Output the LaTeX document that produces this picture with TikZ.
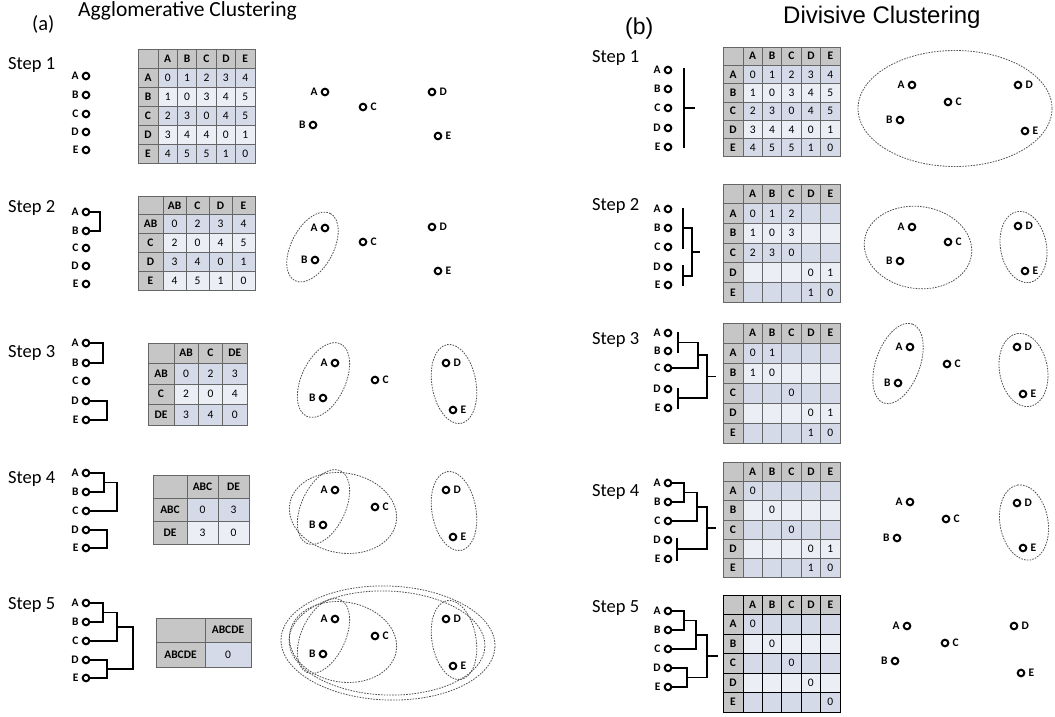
\documentclass[tikz,border=0pt]{standalone}
\usepackage{fontspec}
\setmainfont{Carlito}
\newfontfamily\arialf{Liberation Sans}
\usetikzlibrary{calc}
\definecolor{hdrc}{HTML}{C6C6C6}
\definecolor{banda}{HTML}{D5DAE9}
\definecolor{bandb}{HTML}{EBEEF5}
\definecolor{gridc}{HTML}{666666}
\definecolor{ellc}{HTML}{505050}
\tikzset{
  dot/.style={circle, draw=black, line width=2pt, minimum size=6.6pt, inner sep=0pt},
  plbl/.style={font=\bfseries\fontsize{11.5}{11.5}\selectfont, inner sep=0pt},
  den/.style={draw=black, line width=1.8pt, line join=miter},
  ell/.style={draw=ellc, dash pattern=on 1.6pt off 1.2pt, line width=0.8pt},
  cellt/.style={font=\fontsize{11.5}{11.5}\selectfont, inner sep=0pt, anchor=center},
  gridl/.style={draw=gridc, line width=0.8pt},
  gridk/.style={draw=black, line width=1pt},
  steplbl/.style={font=\fontsize{18.5}{18.5}\selectfont, inner sep=0pt, anchor=base west},
}
\newcommand\settab[8]{\def\TN{#1}\def\TL{#2}\def\TT{#3}\def\HW{#4}\def\CW{#5}\def\RH{#6}\def\NC{#7}\def\NR{#8}}
\newcommand\drawtab[1]{%
  \fill[hdrc] (\TL,\TT) rectangle ++({\HW+\NC*\CW},\RH);
  \fill[hdrc] (\TL,\TT) rectangle ++(\HW,{(\NR+1)*\RH});
  \foreach \r in {1,...,\NR}{
    \pgfmathtruncatemacro\od{mod(\r,2)}
    \ifnum\od=1\relax
      \fill[banda] ({\TL+\HW},{\TT+\r*\RH}) rectangle ++({\NC*\CW},\RH);
    \else
      \fill[bandb] ({\TL+\HW},{\TT+\r*\RH}) rectangle ++({\NC*\CW},\RH);
    \fi
  }
  \foreach \c in {0,...,\NC}{\draw[#1] ({\TL+\HW+\c*\CW},\TT) -- ++(0,{(\NR+1)*\RH});}
  \foreach \r in {1,...,\NR}{\draw[#1] (\TL,{\TT+\r*\RH}) -- ++({\HW+\NC*\CW},0);}
  \draw[#1] (\TL,\TT) rectangle ++({\HW+\NC*\CW},{(\NR+1)*\RH});
}
\newcommand\trow[2]{%
  \foreach \t [count=\c from 0] in {#2}{
    \pgfmathsetmacro\xx{\c==0 ? \TL+\HW/2 : \TL+\HW+(\c-0.5)*\CW}
    \node[cellt] (\TN-#1-\c) at (\xx,{\TT+(#1+0.5)*\RH}) {\ifnum\c=0 \bfseries\else\ifnum#1=0 \bfseries\fi\fi\t};
  }
}
% point with label on the left / right
\newcommand\ptl[4]{\node[dot] (#1) at (#2,#3) {}; \node[plbl, anchor=east] (#1l) at ([xshift=-3pt]#1.west) {#4};}
\newcommand\ptr[4]{\node[dot] (#1) at (#2,#3) {}; \node[plbl, anchor=west] (#1l) at ([xshift=3pt]#1.east) {#4};}
% five dendrogram leaves
\newcommand\leaves[7]{%
  \ptl{#1A}{#2}{#3}{A}\ptl{#1B}{#2}{#4}{B}\ptl{#1C}{#2}{#5}{C}\ptl{#1D}{#2}{#6}{D}\ptl{#1E}{#2}{#7}{E}}
\begin{document}
\begin{tikzpicture}[x=1pt,y=-1pt]
\useasboundingbox (0,0) rectangle (1055,717);
\fill[white] (0,0) rectangle (1055,717);

% ---------------- titles ----------------
\node[inner sep=0pt, anchor=base west, font=\fontsize{20.5}{20.5}\selectfont] (ta) at (32,30.5) {(a)};
\node[inner sep=0pt, anchor=base west, font=\fontsize{21.5}{21.5}\selectfont] (tat) at (78,16.7) {Agglomerative Clustering};
\node[inner sep=0pt, anchor=base west, font=\arialf\fontsize{23}{23}\selectfont] (tb) at (625,35) {(b)};
\node[inner sep=0pt, anchor=base west, font=\arialf\fontsize{24}{24}\selectfont] (tbt) at (783,24) {Divisive Clustering};

% ---------------- step labels ----------------
\node[steplbl] (sa1) at (8,70) {Step 1};
\node[steplbl] (sa2) at (8,212.7) {Step 2};
\node[steplbl] (sa3) at (8,357.7) {Step 3};
\node[steplbl] (sa4) at (8,483) {Step 4};
\node[steplbl] (sa5) at (8,609) {Step 5};
\node[steplbl] (sb1) at (592,62.7) {Step 1};
\node[steplbl] (sb2) at (592,210) {Step 2};
\node[steplbl] (sb3) at (592,344) {Step 3};
\node[steplbl] (sb4) at (592,496) {Step 4};
\node[steplbl] (sb5) at (592,612.7) {Step 5};

% ================= (a) dendrograms =================
\leaves{a1}{86}{76}{95}{114}{132}{150}
\leaves{a2}{86}{212}{231}{248}{266}{284}
\coordinate (a2ab) at (100,221.5);
\draw[den] (a2A.east) -| (a2ab) |- (a2B.east);
\leaves{a3}{86}{343}{363}{381}{401}{420}
\coordinate (a3ab) at (103,353);
\coordinate (a3de) at (107,410.5);
\draw[den] (a3A.east) -| (a3ab) |- (a3B.east);
\draw[den] (a3D.east) -| (a3de) |- (a3E.east);
\leaves{a4}{86}{473}{492}{511}{530}{548}
\coordinate (a4ab) at (104,482.5);
\coordinate (a4abc) at (117,496.75);
\coordinate (a4de) at (107,539);
\draw[den] (a4A.east) -| (a4ab) |- (a4B.east);
\draw[den] (a4ab) -| (a4abc) |- (a4C.east);
\draw[den] (a4D.east) -| (a4de) |- (a4E.east);
\leaves{a5}{86}{603}{622}{641}{660}{678}
\coordinate (a5ab) at (103,612.5);
\coordinate (a5abc) at (117,626.75);
\coordinate (a5de) at (107,669);
\coordinate (a5root) at (133,647.9);
\draw[den] (a5A.east) -| (a5ab) |- (a5B.east);
\draw[den] (a5ab) -| (a5abc) |- (a5C.east);
\draw[den] (a5D.east) -| (a5de) |- (a5E.east);
\draw[den] (a5abc) -| (a5root) |- (a5de);

% ================= (a) tables =================
\settab{ta1}{138}{49}{20}{19.4}{19}{5}{5}
\drawtab{gridl}
\trow{0}{{},A,B,C,D,E}
\trow{1}{A,0,1,2,3,4}
\trow{2}{B,1,0,3,4,5}
\trow{3}{C,2,3,0,4,5}
\trow{4}{D,3,4,4,0,1}
\trow{5}{E,4,5,5,1,0}

\settab{ta2}{138}{196}{25}{23}{18.8}{4}{4}
\drawtab{gridl}
\trow{0}{{},AB,C,D,E}
\trow{1}{AB,0,2,3,4}
\trow{2}{C,2,0,4,5}
\trow{3}{D,3,4,0,1}
\trow{4}{E,4,5,1,0}

\settab{ta3}{148}{343}{26}{24.3}{20.5}{3}{3}
\drawtab{gridl}
\trow{0}{{},AB,C,DE}
\trow{1}{AB,0,2,3}
\trow{2}{C,2,0,4}
\trow{3}{DE,3,4,0}

\settab{ta4}{153}{475}{34}{31}{23}{2}{2}
\drawtab{gridl}
\trow{0}{{},ABC,DE}
\trow{1}{ABC,0,3}
\trow{2}{DE,3,0}

\settab{ta5}{156}{618}{49}{46}{24.5}{1}{1}
\drawtab{gridl}
\trow{0}{{},ABCDE}
\trow{1}{ABCDE,0}

% ================= (a) scatter =================
\ptl{p1A}{325}{92}{A}\ptl{p1B}{313}{125}{B}\ptr{p1C}{363}{107}{C}\ptr{p1D}{432}{92}{D}\ptr{p1E}{438}{136}{E}
\ptl{p2A}{325}{228}{A}\ptl{p2B}{315}{260}{B}\ptr{p2C}{363}{242}{C}\ptr{p2D}{432}{227}{D}\ptr{p2E}{438}{271}{E}
\draw[ell, rotate around={62:(312.5,247)}] (312.5,247) ellipse [x radius=38, y radius=21];
\ptl{p3A}{335}{363}{A}\ptl{p3B}{323}{398}{B}\ptr{p3C}{375}{380}{C}\ptr{p3D}{446}{363}{D}\ptr{p3E}{453}{410}{E}
\draw[ell, rotate around={65:(323.5,380)}] (323.5,380) ellipse [x radius=40, y radius=22];
\draw[ell, rotate around={100:(454,384)}] (454,384) ellipse [x radius=40, y radius=22];
\ptl{p4A}{335}{490}{A}\ptl{p4B}{323}{525}{B}\ptr{p4C}{375}{507}{C}\ptr{p4D}{446}{490}{D}\ptr{p4E}{453}{537}{E}
\draw[ell, rotate around={65:(323.5,507)}] (323.5,507) ellipse [x radius=40, y radius=22];
\draw[ell, rotate around={100:(454,511)}] (454,511) ellipse [x radius=40, y radius=22];
\draw[ell, rotate around={-10:(343,513)}] (343,513) ellipse [x radius=54, y radius=40];
\ptl{p5A}{335}{619}{A}\ptl{p5B}{323}{654}{B}\ptr{p5C}{375}{636}{C}\ptr{p5D}{446}{619}{D}\ptr{p5E}{453}{666}{E}
\draw[ell, rotate around={65:(323.5,636)}] (323.5,636) ellipse [x radius=40, y radius=22];
\draw[ell, rotate around={100:(454,640)}] (454,640) ellipse [x radius=40, y radius=22];
\draw[ell, rotate around={-10:(343,642)}] (343,642) ellipse [x radius=54, y radius=40];
\draw[ell, rotate around={-2:(387,643)}] (387,643) ellipse [x radius=98, y radius=52];
\draw[ell, rotate around={-2:(388,643)}] (388,643) ellipse [x radius=107, y radius=57];

% ================= (b) dendrograms =================
\leaves{b1}{668}{70}{89}{108}{128}{147}
\draw[den] (684,68) -- (684,148);
\draw[den] (684,108) -- (695,108);
\leaves{b2}{668}{209}{228}{247}{267}{285}
\draw[den] (683,208) -- (683,249);
\draw[den] (683,265) -- (683,286);
\draw[den] (683,228) -| (692,276) -- (683,276);
\draw[den] (692,252) -- (700,252);
\leaves{b3}{668}{333}{351}{368}{389}{408}
\draw[den] (678,332) -- (678,353);
\draw[den] (678,342.5) -| (698,368) -- (b3C.east);
\draw[den] (698,355) -| (707,398) -- (678,398);
\draw[den] (678,388) -- (678,409);
\draw[den] (707,376.5) -- (716,376.5);
\leaves{b4}{668}{483}{502}{521}{540}{559}
\draw[den] (b4A.east) -| (684,502) -- (b4B.east);
\draw[den] (684,492.5) -| (697,521) -- (b4C.east);
\draw[den] (697,506.75) -| (707,549) -- (677,549);
\draw[den] (677,538) -- (677,561);
\draw[den] (707,528) -- (716,528);
\leaves{b5}{668}{611}{630}{649}{668}{687}
\draw[den] (b5A.east) -| (684,630) -- (b5B.east);
\draw[den] (684,620.5) -| (696,649) -- (b5C.east);
\draw[den] (b5D.east) -| (687,687) -- (b5E.east);
\draw[den] (696,634.75) -| (707,677.5) -- (687,677.5);
\draw[den] (707,656) -- (718,656);

% ================= (b) tables =================
\settab{tb1}{723}{47}{20}{19.4}{18.3}{5}{5}
\drawtab{gridl}
\trow{0}{{},A,B,C,D,E}
\trow{1}{A,0,1,2,3,4}
\trow{2}{B,1,0,3,4,5}
\trow{3}{C,2,3,0,4,5}
\trow{4}{D,3,4,4,0,1}
\trow{5}{E,4,5,5,1,0}

\settab{tb2}{723}{184}{20}{19.4}{19.7}{5}{5}
\drawtab{gridl}
\trow{0}{{},A,B,C,D,E}
\trow{1}{A,0,1,2,{},{}}
\trow{2}{B,1,0,3,{},{}}
\trow{3}{C,2,3,0,{},{}}
\trow{4}{D,{},{},{},0,1}
\trow{5}{E,{},{},{},1,0}

\settab{tb3}{723}{323}{20}{19.4}{20}{5}{5}
\drawtab{gridl}
\trow{0}{{},A,B,C,D,E}
\trow{1}{A,0,1,{},{},{}}
\trow{2}{B,1,0,{},{},{}}
\trow{3}{C,{},{},0,{},{}}
\trow{4}{D,{},{},{},0,1}
\trow{5}{E,{},{},{},1,0}

\settab{tb4}{723}{462}{20}{19.4}{19.3}{5}{5}
\drawtab{gridl}
\trow{0}{{},A,B,C,D,E}
\trow{1}{A,0,{},{},{},{}}
\trow{2}{B,{},0,{},{},{}}
\trow{3}{C,{},{},0,{},{}}
\trow{4}{D,{},{},{},0,1}
\trow{5}{E,{},{},{},1,0}

\settab{tb5}{723}{595}{20}{19.4}{19.5}{5}{5}
\drawtab{gridk}
\trow{0}{{},A,B,C,D,E}
\trow{1}{A,0,{},{},{},{}}
\trow{2}{B,{},0,{},{},{}}
\trow{3}{C,{},{},0,{},{}}
\trow{4}{D,{},{},{},0,{}}
\trow{5}{E,{},{},{},{},0}

% ================= (b) scatter =================
\ptl{q1A}{912}{85}{A}\ptl{q1B}{900}{120}{B}\ptr{q1C}{948}{102}{C}\ptr{q1D}{1018}{85}{D}\ptr{q1E}{1025}{131}{E}
\draw[ell] (955,108.5) ellipse [x radius=97, y radius=58];
\ptl{q2A}{912}{227}{A}\ptl{q2B}{900}{261}{B}\ptr{q2C}{948}{242}{C}\ptr{q2D}{1018}{226}{D}\ptr{q2E}{1025}{271}{E}
\draw[ell, rotate around={-8:(918,247.5)}] (918,247.5) ellipse [x radius=54, y radius=41];
\draw[ell, rotate around={100:(1023.5,247)}] (1023.5,247) ellipse [x radius=36, y radius=23];
\ptl{q3A}{910}{347}{A}\ptl{q3B}{898}{383}{B}\ptr{q3C}{947}{364}{C}\ptr{q3D}{1017}{347}{D}\ptr{q3E}{1023}{394}{E}
\draw[ell, rotate around={70:(898,363.5)}] (898,363.5) ellipse [x radius=42, y radius=22];
\draw[ell, rotate around={100:(1023.5,370)}] (1023.5,370) ellipse [x radius=37, y radius=24];
\ptl{q4A}{910}{502}{A}\ptl{q4B}{897}{538}{B}\ptr{q4C}{946}{519}{C}\ptr{q4D}{1017}{503}{D}\ptr{q4E}{1023}{548}{E}
\draw[ell, rotate around={100:(1024,522.5)}] (1024,522.5) ellipse [x radius=38, y radius=24];
\ptl{q5A}{907}{626}{A}\ptl{q5B}{895}{661}{B}\ptr{q5C}{945}{643}{C}\ptr{q5D}{1014}{626}{D}\ptr{q5E}{1021}{673}{E}
\end{tikzpicture}
\end{document}
